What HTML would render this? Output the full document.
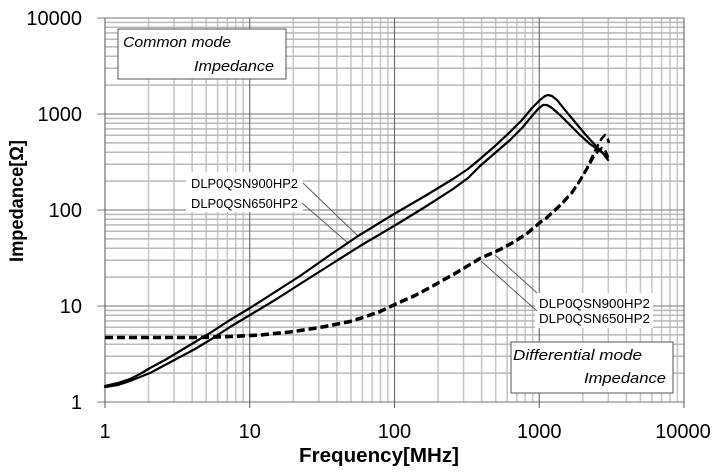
<!DOCTYPE html>
<html>
<head>
<meta charset="utf-8">
<style>
html,body{margin:0;padding:0;background:#fff;}
svg{display:block;}
text{font-family:"Liberation Sans","Noto Sans CJK JP",sans-serif;fill:#000;}
</style>
</head>
<body>
<svg width="726" height="475" viewBox="0 0 726 475" xmlns="http://www.w3.org/2000/svg">
<rect x="0" y="0" width="726" height="475" fill="#fff"/>

<!-- minor vertical grid -->
<g stroke="#c4c4c4" stroke-width="1.5">
<line x1="148.57" y1="18" x2="148.57" y2="402"/><line x1="174.06" y1="18" x2="174.06" y2="402"/><line x1="192.15" y1="18" x2="192.15" y2="402"/><line x1="206.18" y1="18" x2="206.18" y2="402"/><line x1="217.64" y1="18" x2="217.64" y2="402"/><line x1="227.33" y1="18" x2="227.33" y2="402"/><line x1="235.72" y1="18" x2="235.72" y2="402"/><line x1="243.13" y1="18" x2="243.13" y2="402"/>
<line x1="293.32" y1="18" x2="293.32" y2="402"/><line x1="318.81" y1="18" x2="318.81" y2="402"/><line x1="336.90" y1="18" x2="336.90" y2="402"/><line x1="350.93" y1="18" x2="350.93" y2="402"/><line x1="362.39" y1="18" x2="362.39" y2="402"/><line x1="372.08" y1="18" x2="372.08" y2="402"/><line x1="380.47" y1="18" x2="380.47" y2="402"/><line x1="387.88" y1="18" x2="387.88" y2="402"/>
<line x1="438.07" y1="18" x2="438.07" y2="402"/><line x1="463.56" y1="18" x2="463.56" y2="402"/><line x1="481.65" y1="18" x2="481.65" y2="402"/><line x1="495.68" y1="18" x2="495.68" y2="402"/><line x1="507.14" y1="18" x2="507.14" y2="402"/><line x1="516.83" y1="18" x2="516.83" y2="402"/><line x1="525.22" y1="18" x2="525.22" y2="402"/><line x1="532.63" y1="18" x2="532.63" y2="402"/>
<line x1="582.82" y1="18" x2="582.82" y2="402"/><line x1="608.31" y1="18" x2="608.31" y2="402"/><line x1="626.40" y1="18" x2="626.40" y2="402"/><line x1="640.43" y1="18" x2="640.43" y2="402"/><line x1="651.89" y1="18" x2="651.89" y2="402"/><line x1="661.58" y1="18" x2="661.58" y2="402"/><line x1="669.97" y1="18" x2="669.97" y2="402"/><line x1="677.38" y1="18" x2="677.38" y2="402"/>
</g>
<!-- minor horizontal grid -->
<g stroke="#b8b8b8" stroke-width="1.5">
<line x1="105" y1="373.10" x2="684" y2="373.10"/><line x1="105" y1="356.20" x2="684" y2="356.20"/><line x1="105" y1="344.20" x2="684" y2="344.20"/><line x1="105" y1="334.90" x2="684" y2="334.90"/><line x1="105" y1="327.30" x2="684" y2="327.30"/><line x1="105" y1="320.87" x2="684" y2="320.87"/><line x1="105" y1="315.30" x2="684" y2="315.30"/><line x1="105" y1="310.39" x2="684" y2="310.39"/>
<line x1="105" y1="277.10" x2="684" y2="277.10"/><line x1="105" y1="260.20" x2="684" y2="260.20"/><line x1="105" y1="248.20" x2="684" y2="248.20"/><line x1="105" y1="238.90" x2="684" y2="238.90"/><line x1="105" y1="231.30" x2="684" y2="231.30"/><line x1="105" y1="224.87" x2="684" y2="224.87"/><line x1="105" y1="219.30" x2="684" y2="219.30"/><line x1="105" y1="214.39" x2="684" y2="214.39"/>
<line x1="105" y1="181.10" x2="684" y2="181.10"/><line x1="105" y1="164.20" x2="684" y2="164.20"/><line x1="105" y1="152.20" x2="684" y2="152.20"/><line x1="105" y1="142.90" x2="684" y2="142.90"/><line x1="105" y1="135.30" x2="684" y2="135.30"/><line x1="105" y1="128.87" x2="684" y2="128.87"/><line x1="105" y1="123.30" x2="684" y2="123.30"/><line x1="105" y1="118.39" x2="684" y2="118.39"/>
<line x1="105" y1="85.10" x2="684" y2="85.10"/><line x1="105" y1="68.20" x2="684" y2="68.20"/><line x1="105" y1="56.20" x2="684" y2="56.20"/><line x1="105" y1="46.90" x2="684" y2="46.90"/><line x1="105" y1="39.30" x2="684" y2="39.30"/><line x1="105" y1="32.87" x2="684" y2="32.87"/><line x1="105" y1="27.30" x2="684" y2="27.30"/><line x1="105" y1="22.39" x2="684" y2="22.39"/>
</g>
<!-- major grid -->
<g stroke="#909090" stroke-width="1.3">
<line x1="97" y1="18" x2="684" y2="18"/>
<line x1="97" y1="114" x2="684" y2="114"/>
<line x1="97" y1="210" x2="684" y2="210"/>
<line x1="97" y1="306" x2="684" y2="306"/>
<line x1="97" y1="402" x2="684" y2="402"/>
</g>
<g stroke="#666" stroke-width="1.1">
<line x1="105" y1="18" x2="105" y2="408"/>
<line x1="249.75" y1="18" x2="249.75" y2="408"/>
<line x1="394.5" y1="18" x2="394.5" y2="408"/>
<line x1="539.25" y1="18" x2="539.25" y2="408"/>
<line x1="684" y1="18" x2="684" y2="408"/>
</g>

<!-- Common mode box -->
<rect x="118" y="29" width="168" height="50" fill="#fff" stroke="#555" stroke-width="1"/>
<text x="123" y="47" font-size="15" font-style="italic" textLength="108" lengthAdjust="spacingAndGlyphs">Common mode</text>
<text x="194" y="71" font-size="15" font-style="italic" textLength="80" lengthAdjust="spacingAndGlyphs">Impedance</text>

<!-- Differential mode box -->
<rect x="511" y="342" width="162" height="51" fill="#fff" stroke="#555" stroke-width="1"/>
<text x="513" y="360" font-size="15" font-style="italic" textLength="129" lengthAdjust="spacingAndGlyphs">Differential mode</text>
<text x="584" y="383" font-size="15" font-style="italic" textLength="82" lengthAdjust="spacingAndGlyphs">Impedance</text>

<!-- label backgrounds -->
<rect x="186" y="172" width="117" height="40" fill="#fff"/>
<rect x="535" y="293" width="118" height="35" fill="#fff"/>

<!-- leader lines -->
<g stroke="#555" stroke-width="0.9">
<line x1="303" y1="183" x2="358" y2="236"/>
<line x1="302" y1="203" x2="348" y2="243"/>
<line x1="537" y1="293" x2="495" y2="255"/>
<line x1="537" y1="311" x2="481" y2="261"/>
</g>

<!-- DLP labels -->
<text x="191" y="188" font-size="13" textLength="107" lengthAdjust="spacingAndGlyphs">DLP0QSN900HP2</text>
<text x="191" y="208" font-size="13" textLength="107" lengthAdjust="spacingAndGlyphs">DLP0QSN650HP2</text>
<text x="539" y="308" font-size="13" textLength="111" lengthAdjust="spacingAndGlyphs">DLP0QSN900HP2</text>
<text x="539" y="323" font-size="13" textLength="111" lengthAdjust="spacingAndGlyphs">DLP0QSN650HP2</text>

<!-- Common mode curves -->
<g fill="none" stroke="#000" stroke-width="2.2" stroke-linejoin="round" stroke-linecap="round">
<polyline points="105,386 118,383 130,379 140,374 150,368 165,360 180,351 195,342 210,333 230,320 250,308 275,292 300,276 330,255 358,236 394,214 425,196 453,179 468,169 480,159 495,146 510,132 522,120 532,108 540,100 545,96 548,95 552,96 557,100 565,110 575,122 585,134 595,145 602,152 608,160"/>
<polyline points="105,387 118,385 130,381 140,377 150,373 165,365 180,357 195,349 210,340 230,327 250,315 275,300 300,284 330,265 360,246 394,226 425,207 453,189 468,178 480,166 495,153 510,140 522,128 532,116 538,109 543,105 547,105 552,108 560,115 570,125 580,135 590,144 600,151 608,157"/>
</g>

<!-- Differential mode curves (dashed) -->
<g fill="none" stroke="#000" stroke-width="2.6" stroke-dasharray="8 4" stroke-linejoin="round">
<polyline points="105,337 150,337 200,337 230,336 260,334.5 290,331.5 320,327 350,321 363,317 380,311 397,303 415,295 430,287 455,273 480,258 500,249 513,242 527,233 540,222 547,217 560,205 572,192 580,180 587,168 593,155 598,145 602,138 605,135 607,137 609,143"/>
<polyline points="105,338 150,338 200,338 230,337 260,335.5 290,332.5 320,328 350,322 363,318 380,312 397,304 415,296 430,288 455,274 480,259 500,250 513,243 527,234 540,223 547,218 560,206 572,193 580,181 587,169 593,158 598,151 602,148 605,150 608,157"/>
</g>

<!-- Y tick labels -->
<g font-size="20" text-anchor="end">
<text x="82" y="25">10000</text>
<text x="82" y="121">1000</text>
<text x="82" y="217">100</text>
<text x="82" y="313">10</text>
<text x="82" y="409">1</text>
</g>
<!-- X tick labels -->
<g font-size="20" text-anchor="middle">
<text x="105" y="438">1</text>
<text x="249.75" y="438">10</text>
<text x="394.5" y="438">100</text>
<text x="539.25" y="438">1000</text>
<text x="683" y="438">10000</text>
</g>

<!-- Axis titles -->
<text x="379" y="462" font-size="20" font-weight="bold" text-anchor="middle" textLength="160" lengthAdjust="spacingAndGlyphs">Frequency[MHz]</text>
<text transform="translate(23,201) rotate(-90)" font-size="19" font-weight="bold" text-anchor="middle" textLength="122" lengthAdjust="spacingAndGlyphs">Impedance[Ω]</text>
</svg>
</body>
</html>
